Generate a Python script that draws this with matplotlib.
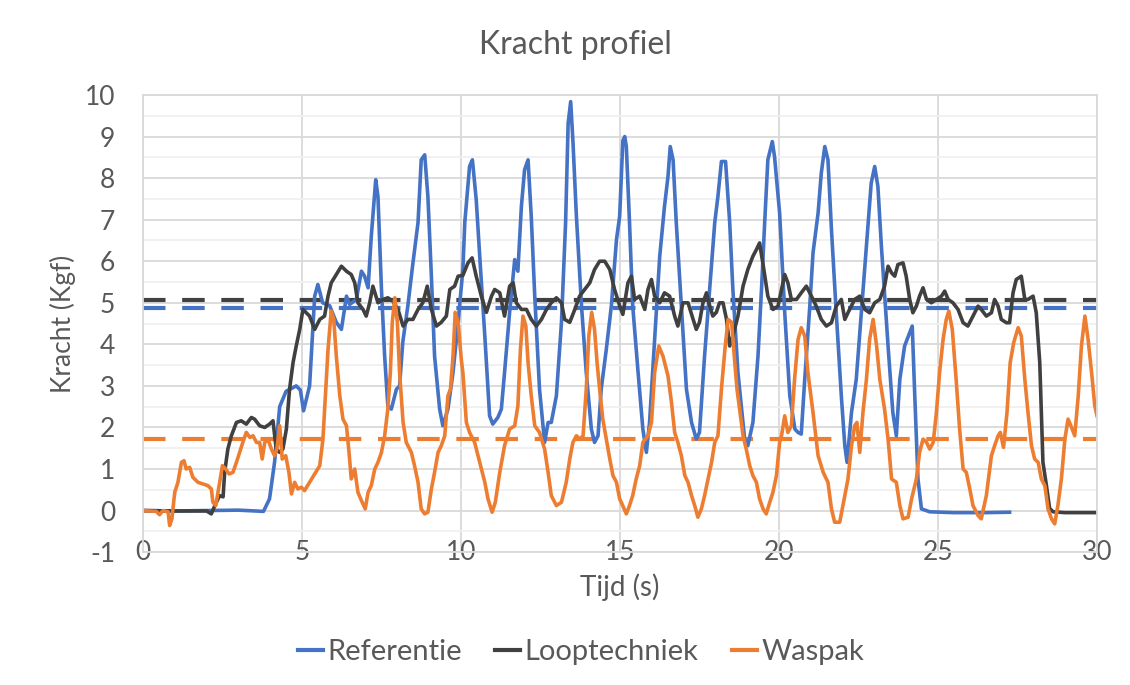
import numpy as np
import matplotlib
matplotlib.use("Agg")
import matplotlib.pyplot as plt

# Referentie (blauw)
ref_t = [0, 1.0, 2.0, 3.0, 3.5, 3.79, 3.98, 4.14, 4.3, 4.5, 4.82, 4.95, 5.05, 5.24, 5.4, 5.5,
         5.65, 5.87, 6.08, 6.24, 6.4, 6.5, 6.71, 6.87, 6.97, 7.08, 7.18, 7.32, 7.39, 7.5,
         7.6, 7.7, 7.81, 7.97, 8.07, 8.17, 8.33, 8.49, 8.65, 8.75, 8.86, 8.96, 9.07, 9.17,
         9.33, 9.43, 9.59, 9.75, 9.91, 10.06, 10.12, 10.27, 10.36, 10.48, 10.59, 10.75, 10.9,
         11.0, 11.16, 11.27, 11.37, 11.53, 11.69, 11.79, 11.9, 12.0, 12.11, 12.21, 12.32,
         12.47, 12.63, 12.74, 12.84, 13.0, 13.16, 13.29, 13.37, 13.45, 13.52, 13.63, 13.79,
         13.94, 14.1, 14.2, 14.31, 14.41, 14.57, 14.73, 14.89, 14.99, 15.09, 15.15, 15.2,
         15.3, 15.4, 15.57, 15.72, 15.83, 15.93, 16.09, 16.25, 16.4, 16.51, 16.58, 16.67,
         16.77, 16.93, 17.09, 17.25, 17.4, 17.5, 17.66, 17.82, 17.98, 18.08, 18.19, 18.32,
         18.45, 18.55, 18.71, 18.92, 19.02, 19.18, 19.34, 19.45, 19.55, 19.65, 19.79, 19.86,
         20.02, 20.18, 20.34, 20.5, 20.6, 20.7, 20.81, 20.97, 21.07, 21.23, 21.33, 21.44,
         21.54, 21.65, 21.8, 21.96, 22.07, 22.14, 22.28, 22.43, 22.59, 22.75, 22.9, 23.01,
         23.11, 23.22, 23.43, 23.58, 23.69, 23.8, 23.95, 24.11, 24.19, 24.27, 24.37, 24.48,
         24.74, 25.5, 26.5, 27.25]
ref_y = [0.0, -0.01, 0.0, 0.01, -0.01, -0.02, 0.28, 1.17, 2.5, 2.87, 3.0, 2.9, 2.4, 3.0, 5.16, 5.44,
         5.0, 4.93, 4.53, 4.36, 5.16, 4.96, 5.08, 5.76, 5.64, 5.36, 6.6, 7.96, 7.56, 5.32,
         3.72, 2.52, 2.44, 2.92, 3.0, 4.05, 4.93, 5.96, 6.93, 8.44, 8.56, 7.56, 5.64, 3.72,
         2.44, 2.04, 2.44, 3.32, 4.53, 5.8, 6.93, 8.28, 8.44, 7.48, 6.12, 4.2, 2.28,
         2.08, 2.24, 2.44, 3.32, 4.77, 6.04, 5.76, 7.32, 8.2, 8.44, 7.08, 5.16,
         2.92, 1.64, 2.12, 2.12, 2.76, 4.53, 6.93, 9.32, 9.84, 8.9, 7.08, 4.93,
         3.32, 1.96, 1.64, 1.8, 2.92, 3.88, 4.93, 6.52, 7.08, 8.9, 9.0, 8.76,
         6.93, 4.93, 3.32, 1.96, 1.4, 2.12, 4.12, 6.12, 7.32, 8.04, 8.76, 8.44,
         6.93, 4.93, 2.92, 2.12, 1.72, 1.88, 3.72, 5.32, 6.93, 7.56, 8.4, 8.4,
         6.93, 5.32, 3.32, 1.72, 1.56, 2.12, 3.72, 5.32, 6.93, 8.44, 8.88, 8.52,
         7.16, 4.77, 2.76, 1.96, 1.88, 1.84, 3.16, 4.93, 6.2, 7.16, 8.12, 8.76,
         8.44, 6.76, 4.77, 2.76, 1.56, 1.16, 2.36, 3.16, 4.77, 6.36, 7.88, 8.28,
         7.8, 6.36, 3.96, 2.36, 1.8, 3.16, 3.96, 4.28, 4.44, 2.76, 0.76, 0.04,
         -0.03, -0.05, -0.05, -0.04]

# Looptechniek (zwart)
loop_t = [0, 1.0, 2.0, 2.15, 2.25, 2.41, 2.52, 2.57, 2.67, 2.78, 2.94, 3.09, 3.25, 3.41, 3.51,
          3.67, 3.83, 3.98, 4.09, 4.19, 4.3, 4.4, 4.51, 4.61, 4.72, 4.82, 4.93, 5.03, 5.24,
          5.4, 5.56, 5.71, 5.82, 5.92, 6.08, 6.24, 6.4, 6.55, 6.66, 6.76, 6.92, 7.02, 7.13,
          7.23, 7.39, 7.55, 7.7, 7.86, 8.02, 8.18, 8.33, 8.49, 8.65, 8.8, 8.94, 9.07, 9.23,
          9.38, 9.54, 9.65, 9.8, 9.91, 10.06, 10.22, 10.35, 10.48, 10.64, 10.8, 10.96, 11.06,
          11.22, 11.37, 11.53, 11.64, 11.74, 11.9, 12.06, 12.21, 12.37, 12.53, 12.69, 12.84,
          13.0, 13.16, 13.26, 13.42, 13.58, 13.73, 13.89, 14.05, 14.2, 14.36, 14.52, 14.68,
          14.83, 14.99, 15.09, 15.25, 15.36, 15.46, 15.62, 15.78, 15.88, 15.99, 16.09, 16.25,
          16.4, 16.56, 16.72, 16.82, 16.98, 17.14, 17.3, 17.4, 17.5, 17.61, 17.72, 17.82,
          17.92, 18.03, 18.13, 18.24, 18.35, 18.45, 18.55, 18.71, 18.87, 19.02, 19.18, 19.29,
          19.39, 19.5, 19.65, 19.81, 19.97, 20.08, 20.18, 20.28, 20.39, 20.55, 20.7, 20.86,
          21.02, 21.17, 21.33, 21.49, 21.65, 21.8, 21.96, 22.07, 22.22, 22.38, 22.54, 22.7,
          22.85, 23.01, 23.17, 23.32, 23.43, 23.54, 23.64, 23.74, 23.9, 24.0, 24.11, 24.21,
          24.32, 24.42, 24.53, 24.64, 24.79, 24.95, 25.11, 25.21, 25.32, 25.47, 25.63, 25.79,
          25.94, 26.1, 26.26, 26.36, 26.52, 26.68, 26.78, 26.89, 26.99, 27.15, 27.25, 27.36,
          27.46, 27.62, 27.73, 27.83, 27.99, 28.09, 28.2, 28.25, 28.3, 28.41, 28.51, 28.62,
          29.0, 30.0]
loop_y = [0.0, -0.01, -0.01, -0.08, 0.1, 0.36, 0.33, 0.93, 1.48, 1.8, 2.12, 2.16, 2.08, 2.24, 2.2,
          2.04, 2.0, 2.08, 2.16, 1.48, 1.4, 1.48, 1.96, 2.92, 3.56, 3.96, 4.36, 4.84, 4.68,
          4.36, 4.6, 4.68, 5.16, 5.48, 5.68, 5.88, 5.76, 5.68, 5.48, 5.0, 4.84, 4.68, 5.0,
          5.4, 5.0, 5.08, 5.12, 5.04, 4.84, 4.44, 4.6, 4.6, 4.84, 5.0, 5.4, 4.84, 4.44,
          4.53, 4.68, 5.32, 5.4, 5.64, 5.66, 5.96, 6.08, 5.64, 5.16, 4.77, 5.16, 5.32,
          5.24, 4.68, 5.4, 5.48, 5.0, 4.84, 4.84, 4.6, 4.44, 4.6, 4.84, 5.0,
          5.12, 5.0, 4.6, 4.53, 4.84, 5.16, 5.32, 5.48, 5.8, 6.0, 6.0, 5.8,
          5.32, 4.93, 4.72, 5.48, 5.64, 5.08, 5.16, 4.84, 5.32, 5.56, 5.16, 5.0,
          5.24, 5.16, 4.68, 4.44, 5.0, 5.0, 4.6, 4.36, 4.53, 5.0, 5.24, 4.93,
          4.68, 4.77, 5.0, 5.0, 4.6, 3.96, 4.2, 4.68, 5.4, 5.8, 6.12, 6.28,
          6.44, 5.92, 5.16, 4.84, 4.92, 5.32, 5.68, 5.48, 5.08, 5.08, 5.24, 5.4,
          5.16, 4.92, 4.6, 4.44, 4.52, 4.92, 5.08, 4.6, 4.84, 5.08, 5.16, 4.84,
          4.76, 5.0, 5.08, 5.4, 5.88, 5.72, 5.64, 5.92, 5.96, 5.64, 5.08, 4.76,
          4.92, 5.16, 5.36, 5.08, 5.0, 5.08, 5.16, 5.28, 5.08, 5.0, 4.84, 4.52,
          4.44, 4.68, 4.92, 4.84, 4.68, 4.76, 5.08, 4.92, 4.6, 4.52, 4.52, 5.24,
          5.56, 5.64, 5.08, 5.08, 5.16, 4.76, 3.56, 2.36, 1.16, 0.6, 0.05, -0.03,
          -0.05, -0.05]

# Waspak (oranje)
wp_t = [0, 0.42, 0.52, 0.63, 0.79, 0.84, 0.91, 1.0, 1.1, 1.21, 1.29, 1.36, 1.47, 1.57, 1.73,
        1.89, 2.04, 2.15, 2.2, 2.29, 2.36, 2.41, 2.5, 2.6, 2.71, 2.83, 2.94, 3.04, 3.14, 3.25,
        3.36, 3.46, 3.57, 3.67, 3.75, 3.83, 3.93, 4.04, 4.14, 4.21, 4.3, 4.38, 4.49, 4.59,
        4.67, 4.77, 4.87, 4.98, 5.08, 5.24, 5.4, 5.56, 5.66, 5.75, 5.82, 5.92, 6.0, 6.08,
        6.19, 6.29, 6.4, 6.48, 6.55, 6.66, 6.76, 6.87, 6.99, 7.08, 7.18, 7.29, 7.39, 7.5,
        7.6, 7.7, 7.78, 7.84, 7.92, 8.0, 8.07, 8.18, 8.28, 8.44, 8.54, 8.65, 8.75, 8.86,
        8.96, 9.07, 9.17, 9.28, 9.38, 9.49, 9.59, 9.67, 9.75, 9.82, 9.91, 10.01, 10.06,
        10.17, 10.27, 10.43, 10.59, 10.75, 10.85, 10.98, 11.08, 11.22, 11.37, 11.53, 11.69,
        11.79, 11.87, 11.95, 12.04, 12.11, 12.21, 12.32, 12.47, 12.63, 12.74, 12.84, 13.0,
        13.16, 13.31, 13.42, 13.52, 13.63, 13.73, 13.84, 13.94, 14.02, 14.11, 14.2, 14.28,
        14.36, 14.46, 14.57, 14.68, 14.78, 14.89, 14.99, 15.04, 15.2, 15.3, 15.4, 15.51,
        15.62, 15.72, 15.88, 15.99, 16.09, 16.22, 16.35, 16.51, 16.62, 16.72, 16.82, 16.93,
        17.04, 17.14, 17.25, 17.35, 17.45, 17.56, 17.66, 17.77, 17.88, 17.98, 18.08, 18.19,
        18.3, 18.4, 18.51, 18.61, 18.68, 18.76, 18.87, 18.97, 19.08, 19.18, 19.29, 19.39,
        19.5, 19.6, 19.71, 19.81, 19.92, 20.02, 20.08, 20.18, 20.28, 20.39, 20.49, 20.6,
        20.7, 20.81, 20.91, 21.07, 21.23, 21.39, 21.54, 21.65, 21.75, 21.91, 22.07, 22.17,
        22.28, 22.38, 22.45, 22.54, 22.64, 22.75, 22.85, 22.96, 23.07, 23.17, 23.32, 23.43,
        23.54, 23.69, 23.8, 23.9, 24.06, 24.17, 24.32, 24.42, 24.53, 24.64, 24.74, 24.85,
        24.95, 25.05, 25.16, 25.26, 25.34, 25.45, 25.57, 25.68, 25.79, 25.89, 26.0, 26.1,
        26.26, 26.36, 26.52, 26.68, 26.78, 26.89, 26.96, 27.06, 27.17, 27.27, 27.38, 27.52,
        27.62, 27.73, 27.83, 27.94, 28.04, 28.15, 28.25, 28.36, 28.46, 28.57, 28.67, 28.77,
        28.88, 28.99, 29.09, 29.2, 29.3, 29.41, 29.51, 29.62, 29.72, 29.83, 29.93, 30.0]
wp_y = [0.0, -0.02, -0.1, 0.0, -0.03, -0.36, -0.2, 0.44, 0.68, 1.16, 1.2, 1.0, 1.04, 0.8, 0.68,
        0.64, 0.6, 0.52, 0.2, 0.12, 0.44, 0.68, 1.08, 1.0, 0.88, 0.92, 1.16, 1.4, 1.64, 1.88,
        1.76, 1.8, 1.64, 1.64, 1.24, 1.64, 1.72, 1.48, 1.32, 1.48, 2.04, 1.24, 1.32, 0.92,
        0.4, 0.68, 0.52, 0.56, 0.48, 0.68, 0.88, 1.08, 1.72, 2.92, 3.88, 4.8, 4.6, 3.72,
        2.76, 2.2, 2.04, 1.4, 0.76, 1.0, 0.44, 0.24, 0.04, 0.44, 0.6, 1.0, 1.16, 1.4,
        1.8, 2.44, 3.32, 4.53, 5.12, 4.53, 3.32, 2.12, 1.64, 1.4, 1.08, 0.68, 0.04, -0.08,
        -0.04, 0.52, 0.92, 1.4, 1.56, 1.8, 2.76, 2.92, 3.72, 4.77, 4.53, 3.64, 3.32,
        2.12, 1.88, 1.64, 1.16, 0.68, 0.28, -0.04, 0.2, 0.92, 1.56, 1.96, 2.04,
        2.52, 3.88, 4.68, 4.44, 3.56, 2.76, 2.04, 1.88, 1.48, 0.92, 0.36, 0.12,
        0.2, 0.68, 1.24, 1.64, 1.8, 1.72, 1.8, 2.92, 4.2, 4.77, 4.36, 3.56,
        2.92, 2.2, 1.72, 1.24, 0.84, 0.68, 0.28, 0.2, -0.08, 0.12, 0.36, 0.76,
        1.08, 1.64, 1.8, 2.12, 3.32, 3.96, 3.72, 3.24, 2.6, 1.88, 1.64, 1.32,
        0.84, 0.68, 0.36, 0.12, -0.16, 0.04, 0.36, 0.76, 1.16, 1.64, 1.8, 2.92,
        3.88, 4.6, 4.53, 3.56, 2.92, 2.44, 1.8, 1.48, 1.08, 0.84, 0.68, 0.28,
        0.04, -0.08, 0.2, 0.44, 0.84, 1.64, 1.8, 2.28, 1.88, 2.04, 3.16, 4.12,
        4.4, 4.2, 3.32, 2.36, 1.32, 0.92, 0.68, 0.04, -0.28, -0.28, 0.36, 0.76,
        1.56, 2.04, 2.12, 1.4, 2.36, 3.16, 4.12, 4.6, 3.96, 3.16, 2.44, 1.72,
        0.76, 0.68, 0.12, -0.2, -0.16, 0.28, 0.76, 1.4, 1.72, 1.64, 1.48, 1.64,
        2.36, 3.32, 4.12, 4.6, 4.8, 4.36, 3.16, 1.96, 1.0, 0.92, 0.52, 0.12,
        -0.12, -0.2, 0.36, 1.32, 1.56, 1.8, 1.88, 1.52, 2.36, 3.56, 4.04, 4.4,
        4.2, 3.16, 2.36, 1.56, 1.24, 1.16, 0.76, 0.6, 0.04, -0.2, -0.32, 0.12,
        0.76, 1.72, 2.2, 2.0, 1.8, 2.76, 3.96, 4.68, 4.12, 3.32, 2.52, 2.28]

# gemiddelden (stippellijnen)
mean_ref = 4.87
mean_loop = 5.06
mean_wp = 1.73

blue = "#4472C4"
dark = "#404040"
orange = "#ED7D31"
txt = "#595959"

plt.rcParams['font.family'] = ['Lato', 'DejaVu Sans']
plt.rcParams['axes.unicode_minus'] = False

fig = plt.figure(figsize=(11.3, 6.85), dpi=100)
ax = fig.add_axes([0.1265, 0.194, 0.8443, 0.6673])

ax.set_xlim(0, 30)
ax.set_ylim(-1, 10)
ax.set_xticks(np.arange(0, 31, 5))
ax.set_yticks(np.arange(-1, 11, 1))
ax.set_yticks(np.arange(-0.5, 10, 1), minor=True)
ax.grid(which='major', color='#d9d9d9', lw=1.3)
ax.grid(which='minor', axis='y', color='#f0f0f0', lw=1.3)
ax.set_axisbelow(True)
for s in ax.spines.values():
    s.set_color('#d9d9d9')
    s.set_linewidth(1.3)

dash = (5.4, 4)
ax.axhline(mean_loop, color=dark, lw=3, dashes=dash)
ax.axhline(mean_ref, color=blue, lw=3, dashes=dash)
ax.axhline(mean_wp, color=orange, lw=3, dashes=dash)

ax.plot(ref_t, ref_y, color=blue, lw=2.6, label='Referentie', solid_joinstyle='round')
ax.plot(loop_t, loop_y, color=dark, lw=2.6, label='Looptechniek', solid_joinstyle='round')
ax.plot(wp_t, wp_y, color=orange, lw=2.6, label='Waspak', solid_joinstyle='round')

ax.tick_params(which='both', length=0, labelsize=19, labelcolor=txt)
ax.tick_params(axis='y', pad=20)
ax.tick_params(axis='x', pad=0)
for lab in ax.get_xticklabels():
    lab.set_verticalalignment('center')

ax.set_xlabel('Tijd (s)', fontsize=20, color=txt)
ax.set_ylabel('Kracht (Kgf)', fontsize=19, color=txt)
ax.xaxis.set_label_coords(0.5, -0.046)
ax.yaxis.set_label_coords(-0.070, 0.5)

fig.text(575 / 1130, 1 - 45 / 685, 'Kracht profiel', fontsize=23, color=txt,
         ha='center', va='center')

leg = fig.legend(loc='center', bbox_to_anchor=(581 / 1130, 1 - 652 / 685), ncol=3,
                 frameon=False, fontsize=21, handlelength=0.85, handletextpad=0.15,
                 columnspacing=1.15, labelcolor=txt)
for h in leg.get_lines():
    h.set_linewidth(3)

fig.savefig('out.png', dpi=100)
